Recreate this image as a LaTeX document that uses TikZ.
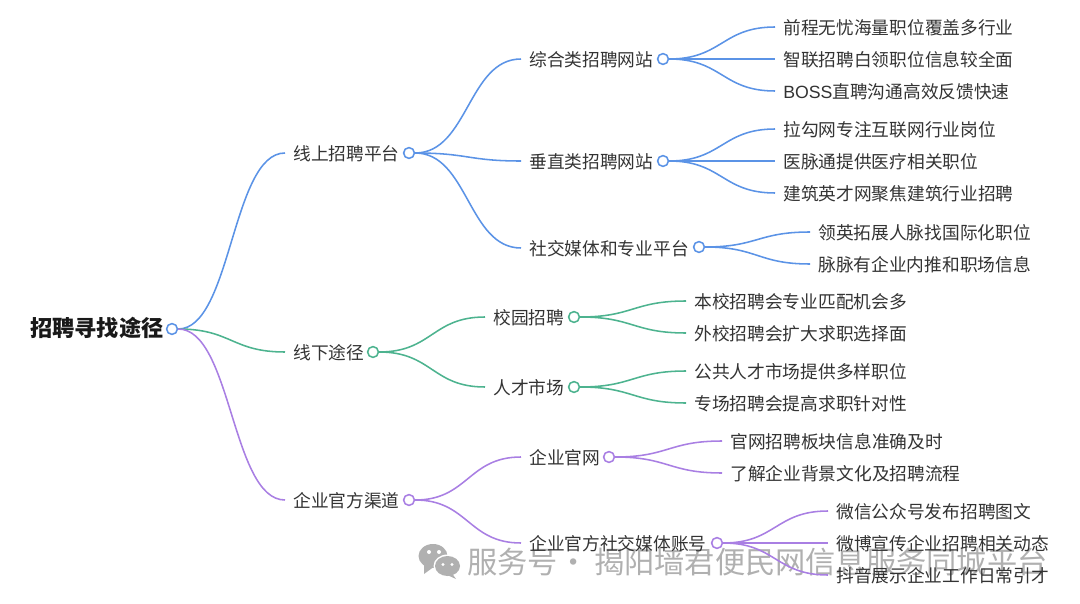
\documentclass[tikz,border=0pt]{standalone}
\usepackage{fontspec}
\setmainfont{Noto Sans CJK SC}
\newfontfamily\latinfont{Liberation Sans}
\usetikzlibrary{calc}

\definecolor{lineblue}{HTML}{5B93E6}
\definecolor{linegreen}{HTML}{4DB38F}
\definecolor{linepurple}{HTML}{A97FE3}
\definecolor{textgray}{HTML}{333333}
\definecolor{markgray}{HTML}{B0B0B0}

\tikzset{
  item/.style={anchor=west, inner xsep=0.2cm, inner ysep=0pt, text height=10.8pt, text depth=0pt, text=textgray, font=\fontsize{12.6pt}{14pt}\selectfont},
  dot/.style={circle, draw, fill=white, line width=1.1pt, minimum size=0.27cm, inner sep=0pt},
  branch/.style={line width=1.1pt, to path={.. controls ($(\tikztostart)!.5!(\tikztotarget |- \tikztostart)$) and ($(\tikztotarget)!.5!(\tikztostart |- \tikztotarget)$) .. (\tikztotarget)}}
}

\begin{document}
\begin{tikzpicture}[x=0.025cm, y=-0.025cm]
\useasboundingbox (0,0) rectangle (1080,604);

% watermark
\fill [markgray] (433,556) ellipse (14.5 and 12);
\fill [markgray] (424,563) -- (424,574) -- (435,566) -- cycle;
\fill [white] (447.5,566) ellipse (14 and 11.5);
\fill [markgray] (447.5,566) ellipse (12.5 and 10);
\fill [markgray] (451,572) -- (456,579) -- (445,574) -- cycle;
\fill [white] (429,552) circle (2);
\fill [white] (439,552) circle (2);
\fill [white] (443,564.5) circle (1.6);
\fill [white] (452,564.5) circle (1.6);
\node [anchor=west, inner sep=0pt, text=markgray, font=\fontsize{21.5pt}{24pt}\selectfont] (mark) at (467,562) {服务号\kern0.7pt·\kern3.5pt揭阳墙君便民网信息服务同城平台};

% texts
\node [item, inner xsep=0pt, text=black!90, font=\fontsize{15.8pt}{18pt}\selectfont\bfseries] (root) at (30,329) {招聘寻找途径};

\node [item] (online) at (285,153) {线上招聘平台};
\node [item] (offline) at (285,352) {线下途径};
\node [item] (official) at (285,500) {企业官方渠道};

\node [item] (general) at (521,59) {综合类招聘网站};
\node [item] (vertical) at (521,161) {垂直类招聘网站};
\node [item] (social) at (521,248) {社交媒体和专业平台};
\node [item] (campus) at (485,317) {校园招聘};
\node [item] (market) at (485,387) {人才市场};
\node [item] (site) at (521,457) {企业官网};
\node [item] (account) at (521,543) {企业官方社交媒体账号};

\node [item] (g1) at (775,27) {前程无忧海量职位覆盖多行业};
\node [item] (g2) at (775,59) {智联招聘白领职位信息较全面};
\node [item] (g3) at (775,91) {{\latinfont BOSS}直聘沟通高效反馈快速};
\node [item] (v1) at (775,129) {拉勾网专注互联网行业岗位};
\node [item] (v2) at (775,161) {医脉通提供医疗相关职位};
\node [item] (v3) at (775,193) {建筑英才网聚焦建筑行业招聘};
\node [item] (s1) at (810,232) {领英拓展人脉找国际化职位};
\node [item] (s2) at (810,264) {脉脉有企业内推和职场信息};
\node [item] (c1) at (686,301) {本校招聘会专业匹配机会多};
\node [item] (c2) at (686,333) {外校招聘会扩大求职选择面};
\node [item] (m1) at (686,371) {公共人才市场提供多样职位};
\node [item] (m2) at (686,403) {专场招聘会提高求职针对性};
\node [item] (w1) at (722,441) {官网招聘板块信息准确及时};
\node [item] (w2) at (722,473) {了解企业背景文化及招聘流程};
\node [item] (a1) at (828,511) {微信公众号发布招聘图文};
\node [item] (a2) at (828,543) {微博宣传企业招聘相关动态};
\node [item] (a3) at (828,575) {抖音展示企业工作日常引才};

% dots
\node [dot, draw=lineblue] (rootdot) at (172,329) {};
\node [dot, draw=lineblue] (onlinedot) at (409,153) {};
\node [dot, draw=linegreen] (offlinedot) at (373,352) {};
\node [dot, draw=linepurple] (officialdot) at (409,500) {};
\node [dot, draw=lineblue] (generaldot) at (663,59) {};
\node [dot, draw=lineblue] (verticaldot) at (663,161) {};
\node [dot, draw=lineblue] (socialdot) at (699,247) {};
\node [dot, draw=linegreen] (campusdot) at (574,317) {};
\node [dot, draw=linegreen] (marketdot) at (574,387) {};
\node [dot, draw=linepurple] (sitedot) at (609,457) {};
\node [dot, draw=linepurple] (accountdot) at (717,543) {};

% connectors
\draw [branch, lineblue] (rootdot.east) to (online.west);
\draw [branch, linegreen] (rootdot.east) to (offline.west);
\draw [branch, linepurple] (rootdot.east) to (official.west);

\draw [branch, lineblue] (onlinedot.east) to (general.west);
\draw [branch, lineblue] (onlinedot.east) to (vertical.west);
\draw [branch, lineblue] (onlinedot.east) to (social.west);
\draw [branch, linegreen] (offlinedot.east) to (campus.west);
\draw [branch, linegreen] (offlinedot.east) to (market.west);
\draw [branch, linepurple] (officialdot.east) to (site.west);
\draw [branch, linepurple] (officialdot.east) to (account.west);

\draw [branch, lineblue] (generaldot.east) to (g1.west);
\draw [branch, lineblue] (generaldot.east) to (g2.west);
\draw [branch, lineblue] (generaldot.east) to (g3.west);
\draw [branch, lineblue] (verticaldot.east) to (v1.west);
\draw [branch, lineblue] (verticaldot.east) to (v2.west);
\draw [branch, lineblue] (verticaldot.east) to (v3.west);
\draw [branch, lineblue] (socialdot.east) to (s1.west);
\draw [branch, lineblue] (socialdot.east) to (s2.west);
\draw [branch, linegreen] (campusdot.east) to (c1.west);
\draw [branch, linegreen] (campusdot.east) to (c2.west);
\draw [branch, linegreen] (marketdot.east) to (m1.west);
\draw [branch, linegreen] (marketdot.east) to (m2.west);
\draw [branch, linepurple] (sitedot.east) to (w1.west);
\draw [branch, linepurple] (sitedot.east) to (w2.west);
\draw [branch, linepurple] (accountdot.east) to (a1.west);
\draw [branch, linepurple] (accountdot.east) to (a2.west);
\draw [branch, linepurple] (accountdot.east) to (a3.west);
\end{tikzpicture}
\end{document}
